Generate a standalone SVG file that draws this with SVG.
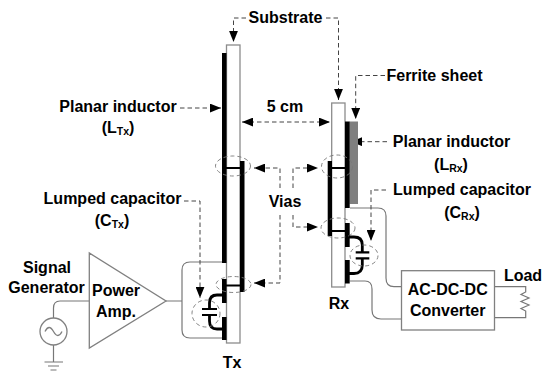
<svg xmlns="http://www.w3.org/2000/svg" width="550" height="375" viewBox="0 0 550 375">
<defs>
<marker id="arr" viewBox="0 0 10 8" refX="10" refY="4" markerWidth="11" markerHeight="9" markerUnits="userSpaceOnUse" orient="auto-start-reverse"><path d="M0,0L10,4L0,8Z" fill="#000"/></marker>
</defs>
<style>
text{font-family:"Liberation Sans",Arial,sans-serif;font-weight:700;font-size:16px;fill:#000;text-anchor:middle}
.sub{font-size:10.5px}
.g{fill:none;stroke:#808080;stroke-width:1.3}
.w{fill:none;stroke:#777;stroke-width:1.2}
.sb{fill:#fff;stroke:#8c8c8c;stroke-width:1.3}
.k{fill:#000}
.t{fill:none;stroke:#000;stroke-width:2.2}
.c{fill:none;stroke:#000;stroke-width:2.8}
.e{fill:none;stroke:#777;stroke-width:.9;stroke-dasharray:4 3}
.l{fill:none;stroke:#444;stroke-width:1;stroke-dasharray:4.5 3}
.a{marker-end:url(#arr)}
</style>
<rect width="550" height="375" fill="#fff"/>
<g id="connectors">
<path class="w" d="M166,301H182M182,301V270Q182,262 190,262H222M182,301V330Q182,338 190,338H222"/>
<path class="w" d="M89,301H60Q53.500,301 53.500,308V318"/>
<path class="w" d="M53.500,345V362M44.500,362H63M48,366H59M50.500,370H56.500"/>
<path class="w" d="M350,208H378Q386,208 386,216V278Q386,286.700 394,286.700H401.500"/>
<path class="w" d="M350,281H365Q372,281 372,289V310Q372,319 381,319H401.500"/>
<path class="w" d="M494.500,286.700H525.700V292L521,294.500L529,298L521,301.500L529,305L521,308.500L525.700,311V317.700H494.500"/>
<path class="l a" d="M246,18H233.500V42"/>
<path class="l a" d="M326,18H338.500V100"/>
<path class="l a" d="M180,108H221"/>
<path class="l a" marker-start="url(#arr)" d="M242,122H330"/>
<path class="l a" d="M280,188V168H254"/>
<path class="l a" d="M293,188V168H318"/>
<path class="l a" d="M280,215V283H254"/>
<path class="l a" d="M293,215V227H318"/>
<path class="l a" d="M184,201H200V298"/>
<path class="l a" d="M386,190H371V241"/>
<path class="l a" d="M385,75.500H355.700V119"/>
<path class="l a" d="M387,141.700H351"/>
</g>
<g id="tx-board">
<rect class="sb" x="226.500" y="45" width="13.500" height="298"/>
<rect class="k" x="222" y="53" width="4.500" height="210"/>
<rect class="k" x="240" y="161" width="4.500" height="131"/>
<rect class="k" x="222" y="279" width="4.500" height="24"/>
<rect class="k" x="222" y="317" width="4.500" height="23"/>
<path class="t" d="M226,168H240M226,285.500H240"/>
<ellipse class="e" cx="233" cy="166" rx="17.500" ry="10"/>
<ellipse class="e" cx="233.500" cy="284.500" rx="17.500" ry="8"/>
</g>
<g id="tx-capacitor">
<path class="c" d="M222,295H217Q209.500,295 209.500,303V309M209.500,315V321Q209.500,329 217,329H222"/>
<path class="t" d="M202,309H217M202,315H217"/>
<ellipse class="e" cx="206" cy="313.500" rx="14" ry="13.500"/>
</g>
<g id="rx-board">
<rect class="sb" x="331.700" y="103" width="13.300" height="184"/>
<rect x="349.500" y="121.500" width="8.500" height="82.500" fill="#7f7f7f"/>
<rect class="k" x="345" y="121.500" width="4.700" height="86.500"/>
<rect class="k" x="327.700" y="161" width="4.300" height="75"/>
<rect class="k" x="345" y="223" width="4.700" height="24"/>
<rect class="k" x="345" y="260" width="4.700" height="23.500"/>
<path class="t" d="M332,168H345M332,231H345"/>
<ellipse class="e" cx="337" cy="166.500" rx="15.500" ry="11.500"/>
<ellipse class="e" cx="338" cy="228" rx="17" ry="10"/>
</g>
<g id="rx-capacitor">
<path class="c" d="M349,237H354Q362.300,237 362.300,245V252M362.300,258V265Q362.300,273.500 354,273.500H349"/>
<path class="t" d="M355.700,252.300H369.300M355.700,258.300H369.300"/>
<ellipse class="e" cx="364" cy="255.500" rx="14" ry="10.500"/>
</g>
<g id="source"><circle class="g" cx="53.500" cy="331.500" r="13.500"/><path class="g" d="M45,331.500Q49,323.500 53.500,331.500T62,331.500"/></g>
<g id="power-amp"><path class="g" d="M89.300,253V348L166,301Z"/><text x="116" y="296">Power</text><text x="116" y="316.700">Amp.</text></g>
<g id="converter"><rect class="g" x="401.500" y="270.700" width="93" height="59.300"/><text x="447.700" y="295">AC-DC-DC</text><text x="447.700" y="315.700">Converter</text></g>
<g id="labels">
<text x="285.500" y="23">Substrate</text>
<text x="118" y="111.700">Planar inductor</text>
<text x="118" y="133">(L<tspan class="sub" dy="2">Tx</tspan><tspan dy="-2">)</tspan></text>
<text x="285" y="112">5 cm</text>
<text x="434.500" y="80.700">Ferrite sheet</text>
<text x="451.500" y="147.300">Planar inductor</text>
<text x="451" y="170">(L<tspan class="sub" dy="2">Rx</tspan><tspan dy="-2">)</tspan></text>
<text x="285" y="206.700">Vias</text>
<text x="112.500" y="204">Lumped capacitor</text>
<text x="112" y="226">(C<tspan class="sub" dy="2">Tx</tspan><tspan dy="-2">)</tspan></text>
<text x="462" y="195">Lumped capacitor</text>
<text x="462" y="217.700">(C<tspan class="sub" dy="2">Rx</tspan><tspan dy="-2">)</tspan></text>
<text x="47" y="272.700">Signal</text>
<text x="46.500" y="293">Generator</text>
<text x="232" y="368">Tx</text>
<text x="339" y="309">Rx</text>
<text x="523" y="281">Load</text>
</g>
</svg>
